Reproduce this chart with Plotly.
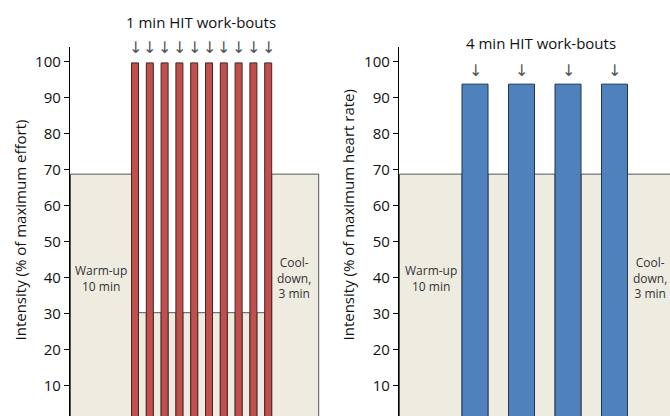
import plotly.graph_objects as go

# ---------------- data (schematic protocol) ----------------
# Left panel: 1-min HIT protocol (intensity as % of maximum effort)
left_phase_types = ["warm", "bout", "rest", "bout", "rest", "bout", "rest", "bout", "rest",
                    "bout", "rest", "bout", "rest", "bout", "rest", "bout", "rest",
                    "bout", "rest", "bout", "cool"]
left_durations = [61, 7, 7.8, 7, 7.8, 7, 7.8, 7, 7.8, 7, 7.8, 7, 7.8, 7, 7.8, 7, 7.8,
                  7, 7.8, 7, 47]
left_intensity = [68.7, 99.6, 30.2, 99.6, 30.2, 99.6, 30.2, 99.6, 30.2, 99.6, 30.2,
                  99.6, 30.2, 99.6, 30.2, 99.6, 30.2, 99.6, 30.2, 99.6, 68.7]

# Right panel: 4-min HIT protocol (intensity as % of maximum heart rate)
right_phase_types = ["warm", "bout", "rest", "bout", "rest", "bout", "rest", "bout", "cool"]
right_durations = [62.5, 26, 20.5, 26, 20.5, 26, 20.5, 26, 60]
right_intensity = [68.7, 93.7, 68.7, 93.7, 68.7, 93.7, 68.7, 93.7, 68.7]

y_ticks = [10, 20, 30, 40, 50, 60, 70, 80, 90, 100]
left_title = "1 min HIT work-bouts"
right_title = "4 min HIT work-bouts"
left_ylabel = "Intensity (% of maximum effort)"
right_ylabel = "Intensity (% of maximum heart rate)"
warm_label = "Warm-up<br>10 min"
cool_label = "Cool-<br>down,<br>3 min"

# ---------------- styling ----------------
W, H = 670, 416
FONT = "Open Sans"
BEIGE, BEIGE_LINE = "#EEECE1", "#555555"
RED, RED_LINE = "#C0504D", "#4a2222"
BLUE, BLUE_LINE = "#4F81BD", "#1f3550"


def segment_starts(durs):
    starts, t = [], 0.5
    for d in durs:
        starts.append(t)
        t += d
    return starts


fig = go.Figure()


def add_panel(types, durs, vals, xa, ya, bout_color, bout_line):
    starts = segment_starts(durs)
    bx, bw, bv = [], [], []
    ox, ow, ov = [], [], []
    for t, s, d, v in zip(types, starts, durs, vals):
        if t == "bout":
            ox.append(s + d / 2); ow.append(d); ov.append(v)
        else:
            bx.append(s + d / 2); bw.append(d); bv.append(v)
    fig.add_trace(go.Bar(x=bx, y=bv, width=bw, base=0, xaxis=xa, yaxis=ya,
                         marker=dict(color=BEIGE, line=dict(color=BEIGE_LINE, width=1)),
                         showlegend=False, hoverinfo="skip"))
    fig.add_trace(go.Bar(x=ox, y=ov, width=ow, base=0, xaxis=xa, yaxis=ya,
                         marker=dict(color=bout_color, line=dict(color=bout_line, width=1)),
                         showlegend=False, hoverinfo="skip"))
    return starts, ox


l_starts, l_bouts = add_panel(left_phase_types, left_durations, left_intensity, "x", "y", RED, RED_LINE)
r_starts, r_bouts = add_panel(right_phase_types, right_durations, right_intensity, "x2", "y2", BLUE, BLUE_LINE)

ydom_top = (H - 46.7) / H
yrange = [1.5, 104.1]
yaxis_common = dict(range=yrange, domain=[0, ydom_top], tickvals=y_ticks,
                    showline=True, linecolor="black", linewidth=1.3,
                    ticks="outside", ticklen=5, tickcolor="black",
                    showgrid=False, zeroline=False,
                    tickfont=dict(family=FONT, size=15, color="#111111"),
                    automargin=False)
xaxis_common = dict(showline=False, showticklabels=False, ticks="", showgrid=False,
                    zeroline=False, automargin=False)

fig.update_layout(
    width=W, height=H, margin=dict(l=0, r=0, t=0, b=0),
    paper_bgcolor="white", plot_bgcolor="white", barmode="overlay",
    xaxis=dict(domain=[70 / W, 320 / W], range=[0, 250], anchor="y", **xaxis_common),
    xaxis2=dict(domain=[399 / W, 1], range=[0, 271], anchor="y2", **xaxis_common),
    yaxis=dict(anchor="x", **yaxis_common),
    yaxis2=dict(anchor="x2", **yaxis_common),
    showlegend=False,
)

ann = []
tf = dict(family=FONT, size=15, color="#111111")
C = dict(xanchor="center", yanchor="middle", showarrow=False)
ann.append(dict(text=left_title, x=201 / W, y=1 - 22 / H, xref="paper", yref="paper", font=tf, **C))
ann.append(dict(text=right_title, x=541 / W, y=1 - 43 / H, xref="paper", yref="paper", font=tf, **C))
af = dict(family="DejaVu Sans", size=16, color="#555555")
for xc in l_bouts:
    ann.append(dict(text="↓", x=xc, y=1 - 47 / H, xref="x", yref="paper", font=af, **C))
for xc in r_bouts:
    ann.append(dict(text="↓", x=xc, y=1 - 70 / H, xref="x2", yref="paper", font=af, **C))

lf = dict(family=FONT, size=12, color="#333333")
for xr, starts, durs in (("x", l_starts, left_durations), ("x2", r_starts, right_durations)):
    ann.append(dict(text=warm_label, x=starts[0] + durs[0] / 2, y=1 - 278 / H, xref=xr,
                    yref="paper", font=lf, **C))
    ann.append(dict(text=cool_label, x=starts[-1] + 22, y=1 - 278 / H, xref=xr,
                    yref="paper", font=lf, **C))

ann.append(dict(text=left_ylabel, x=19 / W, y=1 - 343 / H, xref="paper", yref="paper",
                textangle=-90, xanchor="center", yanchor="bottom", showarrow=False, font=tf))
ann.append(dict(text=right_ylabel, x=347 / W, y=1 - 343 / H, xref="paper", yref="paper",
                textangle=-90, xanchor="center", yanchor="bottom", showarrow=False, font=tf))
fig.update_layout(annotations=ann)

fig.write_html("out.html", config={"displayModeBar": False},
               post_script="document.body.style.margin='0';")
